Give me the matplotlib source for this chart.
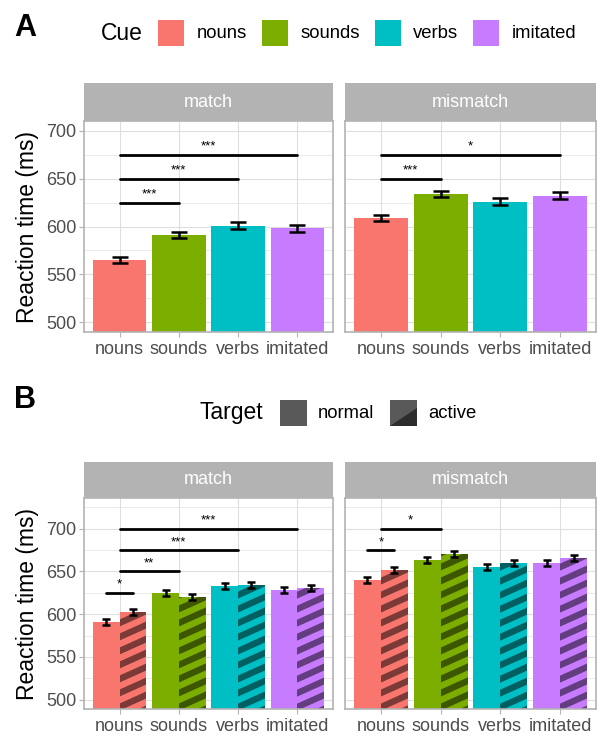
import matplotlib
matplotlib.use("Agg")
import matplotlib.pyplot as plt
from matplotlib.patches import Rectangle, Polygon
from matplotlib.collections import LineCollection
import numpy as np

plt.rcParams['font.family'] = ['Liberation Sans', 'DejaVu Sans']

# ---------------- data ----------------
cues = ["nouns", "sounds", "verbs", "imitated"]
colors = ["#F8766D", "#7CAE00", "#00BFC4", "#C77CFF"]
panels = ["match", "mismatch"]

# Panel A
a_match = [565, 591, 601, 598]
a_match_err = [3.5, 3.5, 3.5, 3.5]
a_mismatch = [609, 634, 626, 632]
a_mismatch_err = [3.5, 3.5, 3.5, 3.5]
a_sig_match = [(1, 2, 625, "***"), (1, 3, 650, "***"), (1, 4, 675, "***")]
a_sig_mismatch = [(1, 2, 650, "***"), (1, 4, 675, "*")]

# Panel B
b_match_normal = [591, 625, 633, 628]
b_match_active = [603, 620, 634, 631]
b_mismatch_normal = [640, 663, 655, 660]
b_mismatch_active = [652, 670, 660, 666]
b_err = [3.5, 3.5, 3.5, 3.5]
b_sig_match = [(0.775, 1.225, 625, "*"), (1, 2, 650, "**"), (1, 3, 675, "***"), (1, 4, 700, "***")]
b_sig_mismatch = [(0.775, 1.225, 675, "*"), (1, 2, 700, "*")]

targets = ["normal", "active"]

# ---------------- figure ----------------
W, H = 600, 740
fig = plt.figure(figsize=(6, 7.4), dpi=100)

def px_axes(x0, x1, ytop, ybot):
    return fig.add_axes([x0 / W, 1 - ybot / H, (x1 - x0) / W, (ybot - ytop) / H])

GREY70 = "#B3B3B3"
GRID = "#DEDEDE"
TXT = "#4D4D4D"

def style(ax, ylim, yticks, show_y, strip_label, strip_h_px, ax_h_px):
    ax.set_xlim(0.4, 4.6)
    ax.set_ylim(*ylim)
    ax.set_xticks(range(1, 5))
    ax.set_xticklabels(cues, fontsize=13, color=TXT)
    ax.set_yticks(yticks)
    minor = [v + 25 for v in yticks]
    ax.set_yticks([m for m in minor if m < ylim[1]], minor=True)
    if show_y:
        ax.set_yticklabels([str(v) for v in yticks], fontsize=13, color=TXT)
        ax.set_ylabel("Reaction time (ms)", fontsize=16.5, color="black", labelpad=5)
        ax.tick_params(axis='y', which='major', length=3.5, color=GREY70, pad=2)
        ax.tick_params(axis='y', which='minor', length=0)
    else:
        ax.set_yticklabels([])
        ax.tick_params(axis='y', which='both', length=0)
    ax.tick_params(axis='x', length=3.5, color=GREY70, pad=3)
    ax.grid(True, which='major', color=GRID, lw=0.8)
    ax.grid(True, which='minor', axis='y', color=GRID, lw=0.45)
    ax.set_axisbelow(True)
    for s in ax.spines.values():
        s.set_color(GREY70)
        s.set_linewidth(1.2)
    frac = strip_h_px / ax_h_px
    ax.add_patch(Rectangle((0, 1), 1, frac, transform=ax.transAxes, facecolor=GREY70,
                           edgecolor='none', clip_on=False))
    ax.text(0.5, 1 + frac / 2, strip_label, transform=ax.transAxes, ha='center', va='center',
            color='white', fontsize=13)

def sig(ax, items):
    for x1, x2, y, lab in items:
        ax.plot([x1, x2], [y, y], color='black', lw=2.0, solid_capstyle='round', zorder=5)
        ax.text((x1 + x2) / 2, y + 2.5, lab, ha='center', va='bottom',
                fontsize=9.5, color='black', zorder=5)

def stripes(ax, bars, slope_px=0.45, period_px=14, lw_pt=4.6):
    """Diagonal stripe pattern drawn inside each bar (clipped to the visible bar)."""
    bb = ax.get_window_extent()
    x0, x1 = ax.get_xlim()
    y0, y1 = ax.get_ylim()
    pxx = bb.width / (x1 - x0)
    pxy = bb.height / (y1 - y0)
    slope = slope_px * pxx / pxy
    period = period_px / pxy
    for b in bars:
        xl = b.get_x()
        xr = xl + b.get_width()
        top = b.get_y() + b.get_height()
        bottom = max(b.get_y(), y0)
        segs = []
        start = bottom - slope * (xr - xl) - period
        k = 0
        while start + k * period < top + period:
            yb = start + k * period
            segs.append([(xl - 0.05, yb - slope * 0.05), (xr + 0.05, yb + slope * (xr - xl + 0.05))])
            k += 1
        lc = LineCollection(segs, colors=[(0, 0, 0, 0.5)], linewidths=lw_pt, zorder=2.1,
                            capstyle='butt')
        ax.add_collection(lc)
        clip = Rectangle((xl, bottom), xr - xl, top - bottom, transform=ax.transData,
                         facecolor='none', edgecolor='none')
        lc.set_clip_path(clip)

# ---------------- Panel A ----------------
ax_coords = [(84, 333), (345, 596)]
A_vals = [(a_match, a_match_err, a_sig_match), (a_mismatch, a_mismatch_err, a_sig_mismatch)]
for i, ((x0, x1), (vals, errs, sigs)) in enumerate(zip(ax_coords, A_vals)):
    ax = px_axes(x0, x1, 121, 332)
    xs = np.arange(1, 5)
    ax.bar(xs, vals, width=0.9, color=colors, zorder=2)
    ax.errorbar(xs, vals, yerr=errs, fmt='none', ecolor='black', elinewidth=1.8,
                capsize=5.5, capthick=1.8, zorder=3)
    style(ax, (490, 710), [500, 550, 600, 650, 700], i == 0, panels[i], 38, 211)
    sig(ax, sigs)

# ---------------- Panel B ----------------
B_vals = [(b_match_normal, b_match_active, b_sig_match),
          (b_mismatch_normal, b_mismatch_active, b_sig_mismatch)]
for i, ((x0, x1), (nv, av, sigs)) in enumerate(zip(ax_coords, B_vals)):
    ax = px_axes(x0, x1, 498, 709)
    xs = np.arange(1, 5)
    ax.bar(xs - 0.225, nv, width=0.45, color=colors, zorder=2)
    act = ax.bar(xs + 0.225, av, width=0.45, color=colors, zorder=2)
    ax.errorbar(xs - 0.225, nv, yerr=b_err, fmt='none', ecolor='black', elinewidth=1.8,
                capsize=3, capthick=1.8, zorder=3)
    ax.errorbar(xs + 0.225, av, yerr=b_err, fmt='none', ecolor='black', elinewidth=1.8,
                capsize=3, capthick=1.8, zorder=3)
    style(ax, (489, 736), [500, 550, 600, 650, 700], i == 0, panels[i], 36, 211)
    stripes(ax, act.patches)
    sig(ax, sigs)

# ---------------- legends & labels ----------------
def fx(x): return x / W
def fy(y): return 1 - y / H

fig.text(fx(14), fy(28), "A", fontsize=22, fontweight='bold', va='center', ha='left')
fig.text(fx(14), fy(400), "B", fontsize=22, fontweight='bold', va='center', ha='left')

# Cue legend
fig.text(fx(101), fy(34), "Cue", fontsize=16.5, va='center', ha='left')
key_x = [158, 262, 375, 473]
lab_x = [197, 301, 413, 512]
for kx, lx, c, lab in zip(key_x, lab_x, colors, cues):
    fig.patches.append(Rectangle((fx(kx), fy(46)), 26 / W, 26 / H, transform=fig.transFigure,
                                 facecolor=c, edgecolor='none'))
    fig.text(fx(lx), fy(34), lab, fontsize=13.3, va='center', ha='left')

# Target legend
fig.text(fx(199), fy(413), "Target", fontsize=16.5, va='center', ha='left')
fig.patches.append(Rectangle((fx(280), fy(426)), 27 / W, 26 / H, transform=fig.transFigure,
                             facecolor="#595959", edgecolor='none'))
fig.text(fx(318), fy(413), targets[0], fontsize=13.3, va='center', ha='left')
kx0, kx1, ky0, ky1 = 390, 417, 400, 426
fig.patches.append(Rectangle((fx(kx0), fy(ky1)), (kx1 - kx0) / W, (ky1 - ky0) / H,
                             transform=fig.transFigure, facecolor="#595959", edgecolor='none'))
fig.patches.append(Polygon([(fx(kx0), fy(ky1)), (fx(kx1), fy(ky0 + 8)), (fx(kx1), fy(ky1))],
                           closed=True, transform=fig.transFigure, facecolor="#2d2d2d", edgecolor='none'))
fig.text(fx(428), fy(413), targets[1], fontsize=13.3, va='center', ha='left')

fig.savefig("out.png", dpi=100)
